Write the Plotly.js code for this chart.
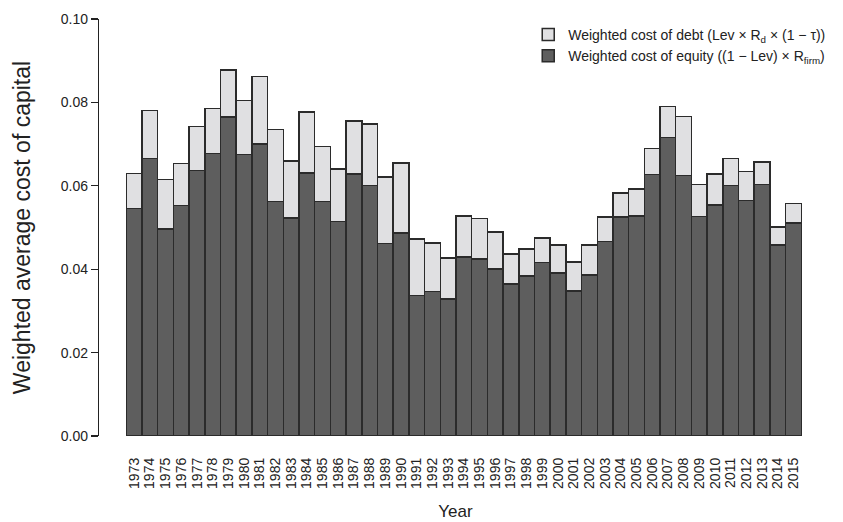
<!DOCTYPE html>
<html>
<head>
<meta charset="utf-8">
<script src="https://cdn.plot.ly/plotly-3.0.1.min.js"></script>
<style>html,body{margin:0;padding:0;background:#fff;}#chart{width:843px;height:522px;}</style>
</head>
<body>
<div id="chart"></div>
<script>
var years = ["1973","1974","1975","1976","1977","1978","1979","1980","1981","1982","1983","1984","1985","1986","1987","1988","1989","1990","1991","1992","1993","1994","1995","1996","1997","1998","1999","2000","2001","2002","2003","2004","2005","2006","2007","2008","2009","2010","2011","2012","2013","2014","2015"];

var equityCost = [0.0545,0.0665,0.0497,0.0553,0.0637,0.0678,0.0765,0.0675,0.0700,0.0562,0.0523,0.0631,0.0562,0.0514,0.0628,0.0601,0.0462,0.0487,0.0337,0.0346,0.0329,0.0429,0.0424,0.0401,0.0365,0.0384,0.0416,0.0391,0.0348,0.0386,0.0466,0.0525,0.0527,0.0627,0.0716,0.0625,0.0526,0.0554,0.0601,0.0565,0.0603,0.0458,0.0511];

var debtCost = [0.0085,0.0115,0.0118,0.0100,0.0105,0.0107,0.0113,0.0130,0.0162,0.0173,0.0136,0.0146,0.0132,0.0126,0.0128,0.0147,0.0159,0.0168,0.0135,0.0117,0.0098,0.0098,0.0097,0.0088,0.0071,0.0065,0.0059,0.0067,0.0069,0.0072,0.0059,0.0058,0.0065,0.0063,0.0074,0.0141,0.0077,0.0074,0.0064,0.0069,0.0054,0.0043,0.0047];

var yTicks = [0, 0.02, 0.04, 0.06, 0.08, 0.10];

var font = "Liberation Sans, Arial, Helvetica, sans-serif";
var lineCol = "#2b2b2b";

var traces = [
  {
    type: "bar",
    x: years,
    y: equityCost,
    name: "Weighted cost of equity ((1 \u2212 Lev) \u00d7 R<sub>firm</sub>)",
    marker: {color: "#5e5e5e", line: {color: lineCol, width: 1.5}},
    hoverinfo: "x+y"
  },
  {
    type: "bar",
    x: years,
    y: debtCost,
    name: "Weighted cost of debt (Lev \u00d7 R<sub>d</sub> \u00d7 (1 \u2212 \u03c4))",
    marker: {color: "#e0e0e2", line: {color: lineCol, width: 1.5}},
    hoverinfo: "x+y"
  }
];

var layout = {
  width: 843,
  height: 522,
  margin: {l: 99, r: 13, t: 19, b: 86},
  paper_bgcolor: "#fff",
  plot_bgcolor: "#fff",
  barmode: "stack",
  bargap: 0,
  showlegend: true,
  legend: {
    x: 0.602, y: 1.0, xanchor: "left", yanchor: "top",
    traceorder: "reversed",
    font: {family: font, size: 14, color: "#222"},
    bgcolor: "rgba(0,0,0,0)",
    itemwidth: 30,
    tracegroupgap: 0
  },
  font: {family: font, color: "#222"},
  xaxis: {
    type: "category",
    range: [-2.24, 43.18],
    tickmode: "array",
    tickvals: years,
    ticktext: years,
    showline: false,
    showgrid: false,
    zeroline: false,
    ticks: "",
    tickangle: -90,
    ticklabelstandoff: 18,
    tickfont: {family: font, size: 14, color: "#222"},
    title: {text: "Year", font: {family: font, size: 17, color: "#222"}, standoff: 17},
    automargin: false,
    fixedrange: true
  },
  yaxis: {
    range: [0, 0.1],
    tickvals: yTicks,
    tickformat: ".2f",
    showline: true,
    linecolor: "#222",
    linewidth: 1.2,
    ticks: "outside",
    ticklen: 7,
    tickwidth: 1.2,
    tickcolor: "#222",
    showgrid: false,
    zeroline: false,
    tickfont: {family: font, size: 14, color: "#222"},
    title: {text: "Weighted average cost of capital", font: {family: font, size: 23, color: "#222"}, standoff: 23},
    automargin: false,
    fixedrange: true
  }
};

Plotly.newPlot("chart", traces, layout, {displayModeBar: false, staticPlot: true});
</script>
</body>
</html>
